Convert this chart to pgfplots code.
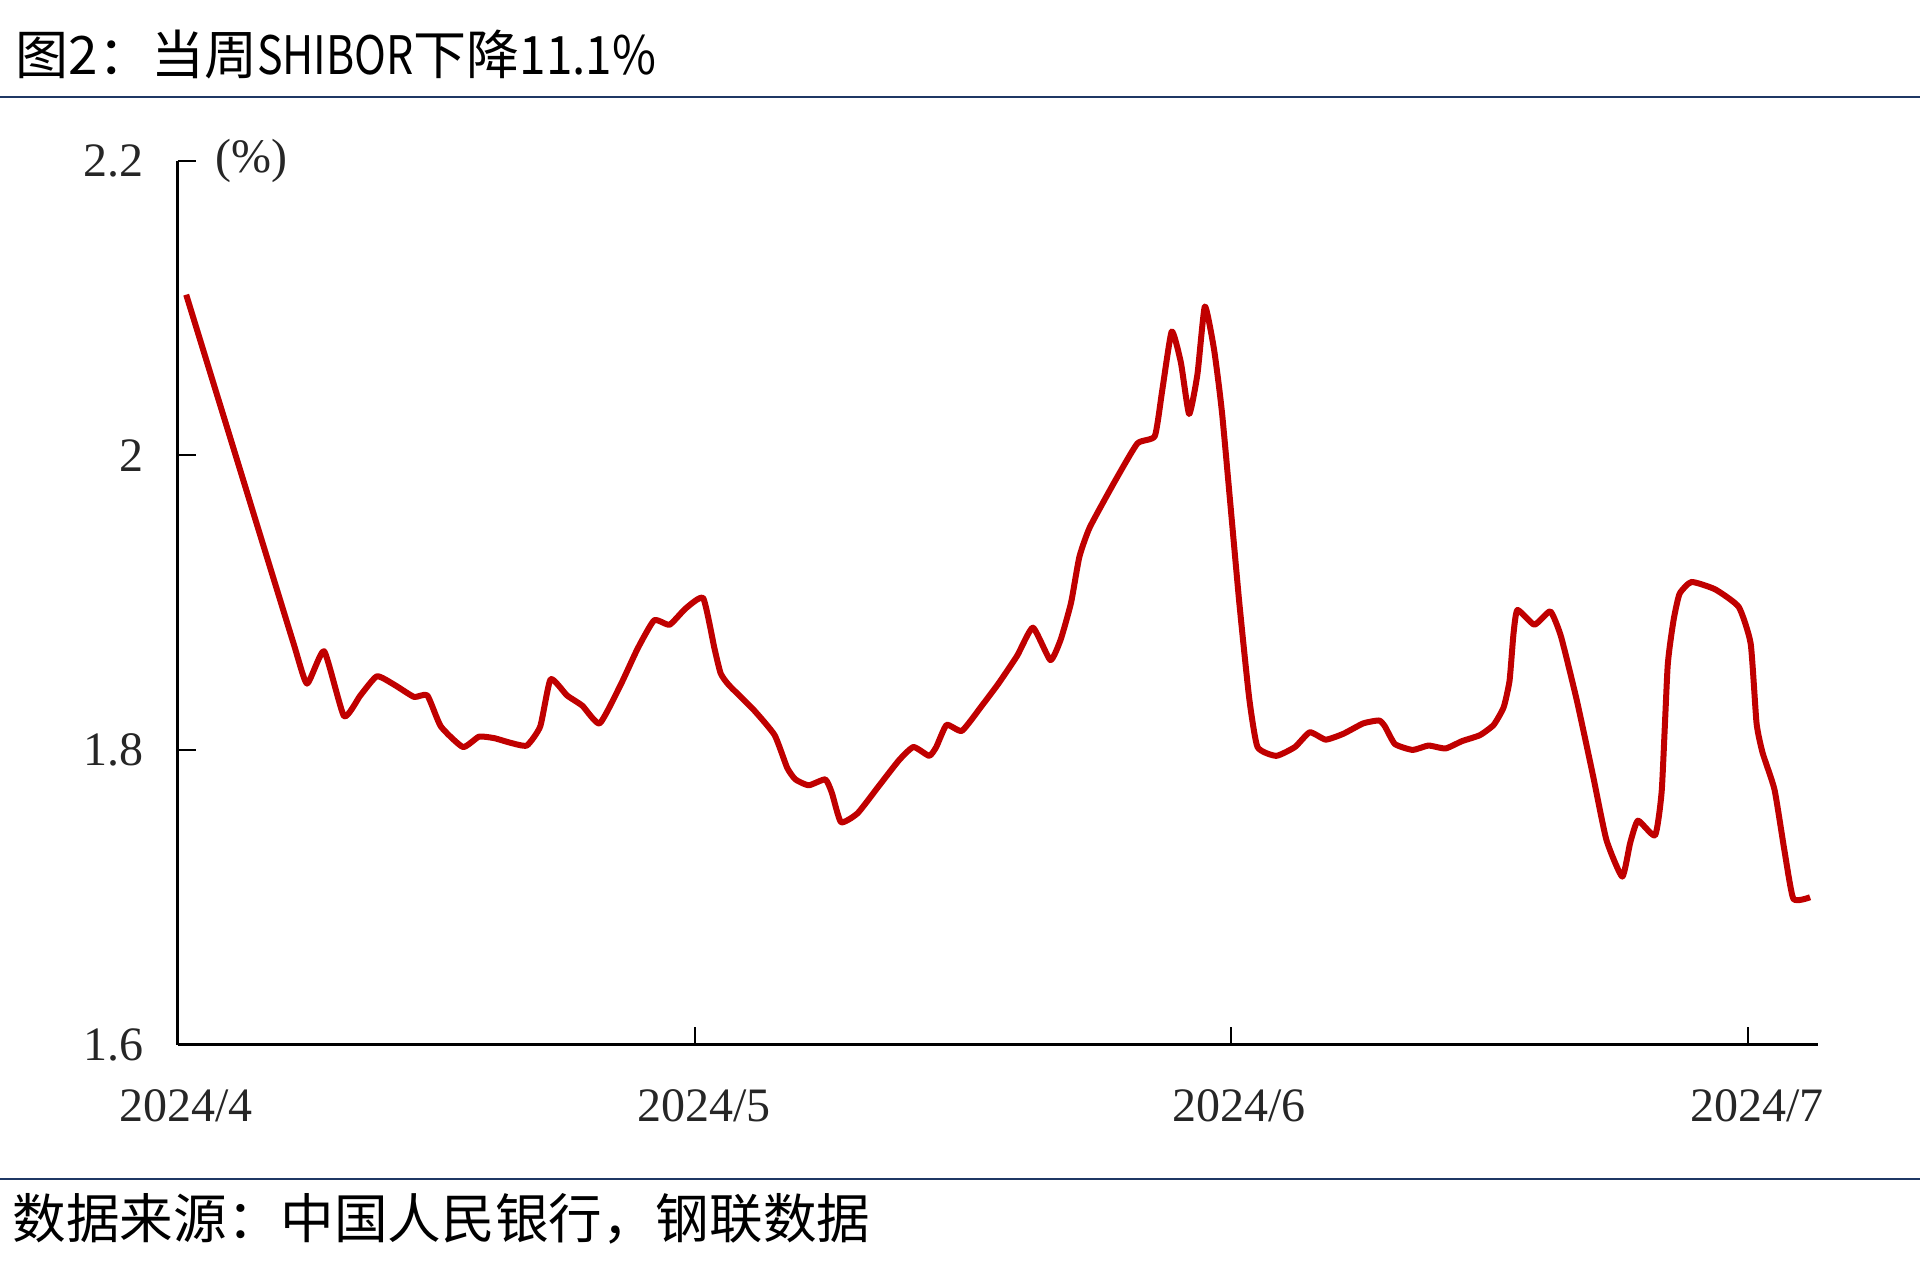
\documentclass[border=0pt]{standalone}
\usepackage{fontspec}
\setmainfont{Liberation Serif}
\newfontfamily\cjk{Noto Sans CJK SC}
\usepackage{pgfplots}
\pgfplotsset{compat=1.18}
\definecolor{linered}{RGB}{192,0,0}
\definecolor{rulenavy}{RGB}{31,56,100}
\definecolor{ticktext}{RGB}{38,38,38}

\begin{document}
\begin{tikzpicture}
\useasboundingbox (0,0) rectangle (480pt,319.75pt);
% header and footer rules
\draw[rulenavy, line width=0.5pt] (0,295.6pt) -- (480pt,295.6pt);
\draw[rulenavy, line width=0.5pt] (0,24.95pt) -- (480pt,24.95pt);
\node[anchor=west, inner sep=0pt, font=\cjk\fontsize{13.25}{14}\selectfont] at (3.7pt,306pt)
  {图2：当周\scalebox{0.81}[1]{SHIBOR}下降\scalebox{0.9}[1]{11.1\%}};
\node[anchor=west, inner sep=0pt, font=\cjk\fontsize{13.4}{14}\selectfont] at (3pt,15.15pt) {数据来源：中国人民银行，钢联数据};

\begin{axis}[
    scale only axis,
    width=410.2pt, height=221pt,
    at={(44.39pt,58.6pt)}, anchor=south west,
    xmin=0, xmax=95.05,
    ymin=1.6, ymax=2.2,
    axis lines=left,
    axis line style={black, line width=0.6pt, -},
    tick align=inside,
    major tick length=4.5pt,
    tick style={black, line width=0.5pt},
    xtick={0,30,61,91},
    xticklabels={2024/4,2024/5,2024/6,2024/7},
    xticklabel style={xshift=2.16pt, yshift=-7.8pt},
    ytick={1.6,1.8,2,2.2},
    yticklabels={1.6,1.8,2,2.2},
    yticklabel style={xshift=-5pt},
    ticklabel style={font=\fontsize{12}{12}\selectfont, text=ticktext},
    clip=false,
]
% days since 1 April (day centres at .5), SHIBOR %
\addplot[linered, line width=1.5pt, smooth, tension=0.3, line join=round] coordinates {
(0.5,2.109) (3.6,1.991) (6.7,1.873) (7.5,1.845) (8.49,1.867) (9.64,1.823)
(10.59,1.837) (11.55,1.850) (12.59,1.844) (13.7,1.836) (14.47,1.837)
(15.25,1.816) (16.53,1.802) (17.46,1.809) (18.35,1.808) (19.24,1.805)
(20.23,1.803) (21.01,1.816) (21.61,1.848) (22.56,1.837) (23.45,1.830)
(24.45,1.818) (25.66,1.844) (26.66,1.869) (27.61,1.888) (28.5,1.885)
(29.43,1.896) (30.45,1.903) (31.1,1.869) (31.46,1.852) (31.94,1.844)
(33.39,1.827) (34.59,1.810) (35.31,1.788) (35.79,1.780) (36.56,1.776)
(37.52,1.780) (37.9,1.771) (38.43,1.751) (39.39,1.757) (40.59,1.775)
(41.79,1.793) (42.63,1.802) (43.54,1.796) (43.95,1.802) (44.55,1.817)
(45.44,1.813) (46.59,1.830) (47.55,1.845) (48.64,1.864) (49.55,1.883)
(50.56,1.861) (51.16,1.875) (51.76,1.900) (52.24,1.931) (52.84,1.951)
(54.28,1.982) (55.6,2.008) (56.61,2.013) (57.04,2.044) (57.59,2.084)
(58.12,2.063) (58.6,2.028) (59.08,2.055) (59.51,2.101) (60.04,2.072)
(60.52,2.027) (61.48,1.903) (62.08,1.835) (62.56,1.802) (63.64,1.796)
(64.73,1.802) (65.59,1.812) (66.51,1.807) (67.54,1.811) (68.68,1.818)
(69.6,1.820) (69.94,1.816) (70.52,1.804) (71.55,1.800) (72.46,1.803)
(73.45,1.801) (74.41,1.806) (75.44,1.810) (76.24,1.817) (76.82,1.829)
(77.16,1.847) (77.39,1.879) (77.62,1.895) (78.6,1.885) (79.52,1.894)
(80.14,1.877) (81.05,1.834) (81.97,1.784) (82.77,1.739) (83.69,1.714)
(84.15,1.737) (84.6,1.752) (85.59,1.742) (85.98,1.773) (86.32,1.857)
(86.66,1.888) (87.01,1.906) (87.7,1.914) (89.07,1.909) (90.44,1.897)
(91.13,1.872) (91.47,1.818) (91.82,1.798) (92.51,1.773) (93.08,1.732)
(93.6,1.699) (94.57,1.700)
};
\node[font=\fontsize{12}{12}\selectfont, text=ticktext] at (axis cs:4.26,2.2) {(\%)};
\end{axis}
\end{tikzpicture}
\end{document}
